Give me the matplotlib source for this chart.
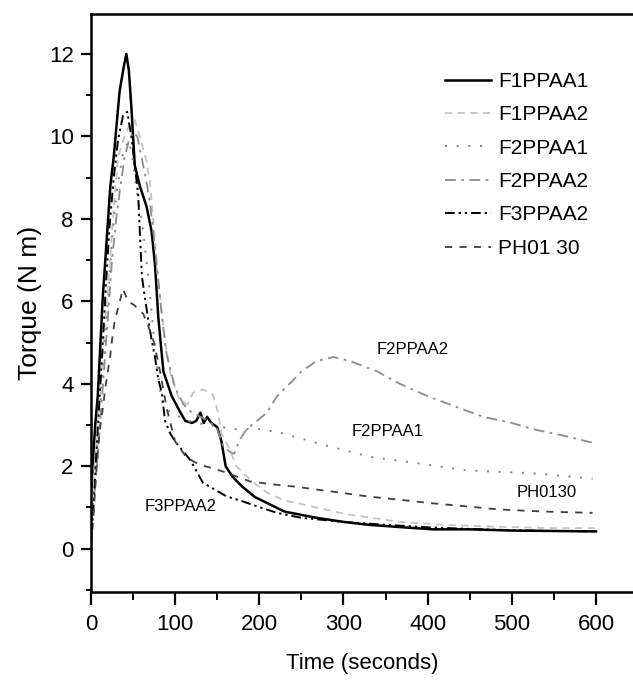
import matplotlib
matplotlib.use("Agg")
import matplotlib.pyplot as plt
from matplotlib.ticker import MultipleLocator

plt.rcParams['font.family'] = ['Liberation Sans', 'DejaVu Sans']

# ---- data ----
f1ppaa1_t = [0, 2, 5, 8, 11, 14, 19, 23, 27, 34, 39, 42, 45, 48, 52, 58, 66, 72, 76, 80, 86, 96,
             105, 112, 120, 125, 130, 134, 138, 143, 150, 155, 160, 168, 180, 195, 210, 230, 268,
             300, 330, 370, 406, 450, 500, 550, 600]
f1ppaa1_v = [1.3, 2.0, 3.0, 3.7, 4.9, 6.1, 7.6, 8.8, 9.5, 11.1, 11.7, 12.0, 11.6, 10.7, 9.3, 8.8,
             8.3, 7.7, 6.9, 5.6, 4.3, 3.7, 3.35, 3.1, 3.05, 3.1, 3.3, 3.05, 3.2, 3.05, 2.95, 2.6,
             2.0, 1.75, 1.5, 1.25, 1.1, 0.9, 0.75, 0.65, 0.58, 0.52, 0.47, 0.47, 0.44, 0.43, 0.42]

f1ppaa2_t = [0, 5, 10, 15, 20, 28, 32, 40, 46, 52, 58, 66, 70, 75, 80, 88, 95, 105, 115, 121, 127,
             133, 140, 145, 151, 155, 163, 173, 189, 210, 228, 268, 300, 367, 420, 486, 550, 600]
f1ppaa2_v = [1.0, 2.2, 3.5, 5.0, 6.3, 8.5, 9.5, 10.0, 10.3, 10.4, 10.0, 9.4, 8.9, 7.7, 6.5, 5.0,
             4.2, 3.6, 3.5, 3.78, 3.85, 3.86, 3.8, 3.73, 3.3, 2.8, 2.48, 2.0, 1.67, 1.35, 1.18,
             1.0, 0.85, 0.65, 0.58, 0.53, 0.5, 0.5]

f2ppaa1_t = [0, 5, 10, 15, 20, 25, 30, 38, 45, 50, 55, 62, 70, 76, 82, 86, 95, 105, 115, 125, 140,
             155, 170, 185, 201, 228, 236, 280, 331, 379, 446, 525, 596]
f2ppaa1_v = [0.5, 1.8, 3.2, 4.6, 6.0, 7.5, 8.6, 9.6, 9.9, 9.4, 8.6, 7.7, 6.2, 4.8, 3.85, 3.45, 3.3,
             3.2, 3.1, 3.05, 3.0, 2.95, 2.9, 2.9, 2.9, 2.8, 2.75, 2.5, 2.23, 2.1, 1.9, 1.83, 1.7]

f2ppaa2_t = [0, 5, 10, 15, 20, 25, 30, 35, 40, 45, 50, 55, 60, 65, 70, 75, 80, 85, 90, 100, 110,
             120, 130, 140, 150, 157, 165, 170, 177, 185, 200, 209, 221, 236, 250, 268, 288, 308,
             340, 367, 400, 426, 466, 500, 525, 560, 596]
f2ppaa2_v = [0.8, 1.5, 2.8, 4.2, 5.6, 7.0, 8.0, 8.8, 9.5, 9.9, 10.1, 10.0, 9.5, 9.0, 8.4, 7.5,
             6.5, 5.5, 4.7, 3.9, 3.5, 3.3, 3.2, 3.1, 2.9, 2.5, 2.35, 2.3, 2.65, 2.9, 3.15, 3.3,
             3.7, 4.0, 4.3, 4.55, 4.65, 4.55, 4.3, 4.0, 3.7, 3.5, 3.2, 3.05, 2.9, 2.75, 2.57]

f3ppaa2_t = [0, 3, 6, 10, 14, 18, 22, 27, 32, 38, 43, 48, 52, 56, 60.5, 64, 68, 72, 76, 80, 84,
             88, 94, 100, 108, 118, 133, 150, 161, 180, 197, 221, 250, 300, 350, 400, 450, 500,
             550, 600]
f3ppaa2_v = [0.2, 1.0, 2.2, 3.6, 5.0, 6.5, 7.8, 9.0, 9.9, 10.5, 10.6, 10.0, 9.3, 8.6, 6.6, 6.1,
             5.55, 5.07, 4.65, 4.1, 3.8, 3.1, 2.8, 2.6, 2.4, 2.15, 1.6, 1.4, 1.27, 1.15, 1.03,
             0.87, 0.75, 0.65, 0.58, 0.52, 0.48, 0.45, 0.43, 0.42]

ph0130_t = [0, 3, 6, 10, 14, 17, 20, 23, 25, 28, 33, 38, 44, 52, 56, 62, 68, 75, 82, 90, 100, 114,
            130, 145, 160, 189, 221, 245, 270, 300, 328, 370, 406, 450, 486, 540, 596]
ph0130_v = [0.1, 0.8, 1.8, 2.8, 3.4, 3.9, 4.3, 4.7, 5.07, 5.5, 5.9, 6.3, 6.0, 5.9, 5.8, 5.7, 5.4,
            5.0, 4.3, 3.4, 2.6, 2.2, 2.03, 1.95, 1.85, 1.63, 1.55, 1.5, 1.43, 1.35, 1.27, 1.18,
            1.1, 1.02, 0.95, 0.9, 0.87]

legend_labels = ["F1PPAA1", "F1PPAA2", "F2PPAA1", "F2PPAA2", "F3PPAA2", "PH01 30"]

# annotation labels in the plot: (text, time, torque)
annot_text = ["F2PPAA2", "F2PPAA1", "PH0130", "F3PPAA2"]
annot_t = [382, 352, 542, 107]
annot_v = [4.82, 2.85, 1.36, 1.02]

# ---- figure ----
fig = plt.figure(figsize=(6.33, 6.83), dpi=100)
ax = fig.add_axes([91/633, 1 - 592/683, 1 - 91/633, (592 - 14)/683])

styles = [
    dict(color="black", lw=1.8, ls="-"),
    dict(color="#c4c4c4", lw=1.3, ls=(0, (4, 3))),
    dict(color="#808080", lw=1.4, ls=(0, (1, 5))),
    dict(color="#8c8c8c", lw=1.3, ls=(0, (6, 3, 1.5, 3))),
    dict(color="black", lw=1.4, ls=(0, (5, 2, 1.2, 2, 1.2, 2))),
    dict(color="#404040", lw=1.3, ls=(0, (4, 4))),
]
data = [(f1ppaa1_t, f1ppaa1_v), (f1ppaa2_t, f1ppaa2_v), (f2ppaa1_t, f2ppaa1_v),
        (f2ppaa2_t, f2ppaa2_v), (f3ppaa2_t, f3ppaa2_v), (ph0130_t, ph0130_v)]

handles = []
for (t, v), st, lab in zip(data, styles, legend_labels):
    h, = ax.plot(t, v, label=lab, **st)
    handles.append(h)

for txt, tt, vv in zip(annot_text, annot_t, annot_v):
    ax.text(tt, vv, txt, fontsize=12, ha="center", va="center", color="black")

ax.set_xlim(0, 644)
ax.set_ylim(-1.05, 12.97)
ax.xaxis.set_major_locator(MultipleLocator(100))
ax.xaxis.set_minor_locator(MultipleLocator(50))
ax.yaxis.set_major_locator(MultipleLocator(2))
ax.yaxis.set_minor_locator(MultipleLocator(1))
ax.tick_params(axis="x", which="major", direction="out", length=9, width=1.6, labelsize=16, pad=7)
ax.tick_params(axis="x", which="minor", direction="out", length=6, width=1.4)
ax.tick_params(axis="y", which="major", direction="out", length=7, width=1.6, labelsize=16, pad=5.5)
ax.tick_params(axis="y", which="minor", direction="out", length=3.8, width=1.4)
for s in ["left", "bottom", "top"]:
    ax.spines[s].set_linewidth(1.8)
ax.spines["right"].set_visible(False)

ax.set_xlabel("Time (seconds)", fontsize=16, labelpad=13)
ax.set_ylabel("Torque (N m)", fontsize=19, labelpad=5)

leg = ax.legend(handles=handles, loc="upper left", bbox_to_anchor=(445/633, 1 - 72/683),
                bbox_transform=fig.transFigure, frameon=False, fontsize=15,
                handlelength=2.2, handletextpad=0.35, labelspacing=0.69,
                borderpad=0, borderaxespad=0)

fig.savefig("out.png", dpi=100)
